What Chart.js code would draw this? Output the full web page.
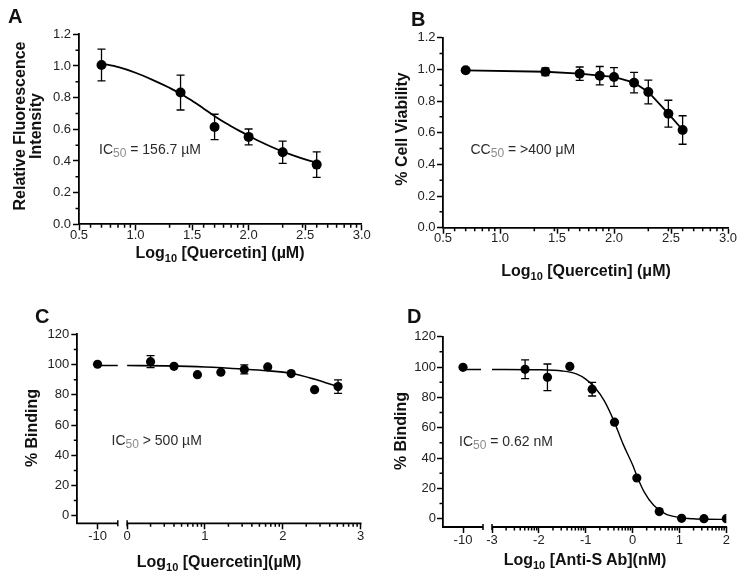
<!DOCTYPE html>
<html><head><meta charset="utf-8">
<script src="https://cdn.jsdelivr.net/npm/chart.js@4.4.0/dist/chart.umd.min.js"></script>
<style>
html,body{margin:0;padding:0;background:#fff;}
#wrap{position:relative;width:744px;height:578px;overflow:hidden;font-family:"Liberation Sans",Arial,sans-serif;background:#fff;}
canvas{position:absolute;left:0;top:0;}
.t{position:absolute;white-space:nowrap;line-height:1;color:#111;}
.letter{font-weight:bold;font-size:20px;}
.ax{font-weight:bold;font-size:16px;}
.ax sub{font-size:11px;vertical-align:baseline;position:relative;top:4px;}
.ann{font-size:14px;color:#2a2a2a;}
.ann sub{font-size:12px;color:#8c8c8c;vertical-align:baseline;position:relative;top:3px;}
.c{transform:translate(-50%,-50%);}
.r{transform:translate(-50%,-50%) rotate(-90deg);}
</style>
</head><body>
<div id="wrap">
<canvas id="cA" width="744" height="578"></canvas>
<canvas id="cB" width="744" height="578"></canvas>
<canvas id="cC" width="744" height="578"></canvas>
<canvas id="cD" width="744" height="578"></canvas>

<div class="t letter" style="left:8px;top:6px">A</div>
<div class="t letter" style="left:411px;top:9px">B</div>
<div class="t letter" style="left:35px;top:306px">C</div>
<div class="t letter" style="left:407px;top:306px">D</div>

<div class="t ax c" style="left:220px;top:253px">Log<sub>10</sub> [Quercetin] (µM)</div>
<div class="t ax c" style="left:586px;top:271px">Log<sub>10</sub> [Quercetin] (μM)</div>
<div class="t ax c" style="left:219px;top:562px">Log<sub>10</sub> [Quercetin](µM)</div>
<div class="t ax c" style="left:585px;top:560px">Log<sub>10</sub> [Anti-S Ab](nM)</div>

<div class="t ax r" style="left:20px;top:126px">Relative Fluorescence</div>
<div class="t ax r" style="left:36px;top:126px">Intensity</div>
<div class="t ax r" style="left:402px;top:129px">% Cell Viability</div>
<div class="t ax r" style="left:32px;top:428px">% Binding</div>
<div class="t ax r" style="left:401px;top:431px">% Binding</div>

<div class="t ann" style="left:99px;top:141.5px">IC<sub>50</sub> = 156.7 µM</div>
<div class="t ann" style="left:470.5px;top:142px">CC<sub>50</sub> = &gt;400 μM</div>
<div class="t ann" style="left:111.5px;top:433px">IC<sub>50</sub> &gt; 500 µM</div>
<div class="t ann" style="left:459px;top:434px">IC<sub>50</sub> = 0.62 nM</div>
</div>

<script>
// ---------------- DATA ----------------
// Panel A
const xA = [0.699, 1.398, 1.699, 2.000, 2.301, 2.602];
const yA = [1.006, 0.832, 0.615, 0.552, 0.455, 0.377];
const errA = [0.10, 0.11, 0.08, 0.05, 0.07, 0.08];
const fitXA = [0.699, 0.85, 1.0, 1.15, 1.3, 1.4, 1.5, 1.6, 1.7, 1.8, 1.9, 2.0, 2.1, 2.2, 2.3, 2.4, 2.5, 2.602];
const fitYA = [1.015, 0.992, 0.957, 0.912, 0.862, 0.825, 0.78, 0.732, 0.683, 0.638, 0.598, 0.56, 0.523, 0.49, 0.46, 0.434, 0.41, 0.389];
const xTicksA = [0.5, 1.0, 1.5, 2.0, 2.5, 3.0];
const yTicksA = [0.0, 0.2, 0.4, 0.6, 0.8, 1.0, 1.2];

// Panel B
const xB = [0.699, 1.398, 1.699, 1.875, 2.000, 2.176, 2.301, 2.477, 2.602];
const yB = [0.994, 0.985, 0.973, 0.960, 0.952, 0.916, 0.857, 0.720, 0.617];
const errB = [0, 0.025, 0.042, 0.058, 0.059, 0.065, 0.075, 0.085, 0.090];
const xTicksB = [0.5, 1.0, 1.5, 2.0, 2.5, 3.0];
const yTicksB = [0.0, 0.2, 0.4, 0.6, 0.8, 1.0, 1.2];

// Panel C
const xC = [-10, 0.301, 0.602, 0.903, 1.204, 1.505, 1.806, 2.107, 2.408, 2.709];
const yC = [100.2, 101.9, 98.8, 93.3, 94.9, 96.8, 98.4, 94.0, 83.4, 85.4];
const errC = [0, 4, 0, 0, 0, 3, 0, 0, 0, 4.5];
const fitXCleft = [-10, -8];
const fitYCleft = [99.4, 99.4];
const fitXC = [0, 0.5, 1.0, 1.5, 1.8, 2.1, 2.4, 2.55, 2.709];
const fitYC = [99.4, 99.1, 98.4, 97.0, 95.9, 94.2, 90.4, 88.0, 85.4];
const xTicksC = [-10, 0, 1, 2, 3];
const yTicksC = [0, 20, 40, 60, 80, 100, 120];

// Panel D
const xD = [-10, -2.294, -1.817, -1.340, -0.863, -0.386, 0.091, 0.569, 1.046, 1.523, 2.000];
const yD = [99.8, 98.5, 93.2, 100.4, 85.4, 63.6, 26.8, 4.7, 0.2, 0.0, 0.0];
const errD = [0, 6.2, 8.8, 0, 4.5, 0, 0, 0, 0, 0, 0];
const fitXDleft = [-10, -8.2];
const fitYDleft = [98.4, 98.4];
const fitXD = [-3, -2, -1.5, -1.2, -1.0, -0.8, -0.6, -0.4, -0.2, 0, 0.1, 0.25, 0.45, 0.7, 1.0, 1.3, 1.6, 2.0];
const fitYD = [98.4, 98.2, 97.4, 95.5, 92, 86.3, 77.5, 64.5, 49, 35.5, 27.5, 17.5, 8.8, 3.2, 0.8, -0.1, -0.4, -0.5];
const xTicksD = [-10, -3, -2, -1, 0, 1, 2];
const yTicksD = [0, 20, 40, 60, 80, 100, 120];

// ---------------- HELPERS ----------------
const FONT = "'Liberation Sans', Arial, sans-serif";
Chart.defaults.font.family = FONT;

// broken-axis mapping: real values in [lo,hi] are squeezed into a short left segment
function makeMap(brk){
  if(!brk) return v => v;
  return v => (v <= brk.hi ? brk.dispLo + (v - brk.lo) * brk.k : v);
}
function logMinors(from, to){
  const out = [];
  for(let d = Math.floor(from); d < Math.ceil(to); d++){
    for(let k = 2; k <= 9; k++){
      const v = d + Math.log10(k);
      if(v > from + 1e-6 && v < to - 1e-6) out.push(v);
    }
  }
  return out;
}
function pts(xs, ys, map){ return xs.map((x,i)=>({x: map(x), y: ys[i]})); }

function errorPlugin(xs, ys, es, map, cap, lw){
  return { id:'errbars', beforeDatasetsDraw(chart){
    const {ctx, scales:{x, y}} = chart;
    ctx.save(); ctx.strokeStyle = '#000'; ctx.lineWidth = lw; ctx.beginPath();
    xs.forEach((xv,i)=>{
      const e = es[i]; if(!e) return;
      const px = x.getPixelForValue(map(xv));
      const y1 = y.getPixelForValue(ys[i] + e), y2 = y.getPixelForValue(ys[i] - e);
      ctx.moveTo(px, y1); ctx.lineTo(px, y2);
      ctx.moveTo(px - cap, y1); ctx.lineTo(px + cap, y1);
      ctx.moveTo(px - cap, y2); ctx.lineTo(px + cap, y2);
    });
    ctx.stroke(); ctx.restore();
  }};
}
function decorPlugin(opt){
  return { id:'decor', afterDraw(chart){
    const {ctx, chartArea:ca, scales:{x, y}} = chart;
    ctx.save(); ctx.strokeStyle = '#000'; ctx.lineWidth = 1.5; ctx.beginPath();
    const yb = ca.bottom;
    opt.xMinor.forEach(v=>{ const px = x.getPixelForValue(v); ctx.moveTo(px, yb); ctx.lineTo(px, yb + 3.5); });
    opt.yMinor.forEach(v=>{ const py = y.getPixelForValue(v); ctx.moveTo(ca.left, py); ctx.lineTo(ca.left - 3.5, py); });
    ctx.stroke();
    if(opt.brk){
      const b = opt.brk, m = opt.map;
      const a1 = x.getPixelForValue(m(b.lo)), a2 = x.getPixelForValue(m(b.hi));
      const r1 = x.getPixelForValue(b.rightStart);
      ctx.lineWidth = 1.8; ctx.beginPath();
      ctx.moveTo(a1 - 1, yb); ctx.lineTo(a2, yb);
      ctx.moveTo(r1, yb); ctx.lineTo(ca.right + 0.8, yb);
      ctx.stroke();
      ctx.lineWidth = 1.5; ctx.beginPath();
      ctx.moveTo(a2, yb - 3); ctx.lineTo(a2, yb + 3);
      ctx.moveTo(r1, yb - 3); ctx.lineTo(r1, yb + 3);
      ctx.stroke();
    }
    ctx.restore();
  }};
}

function makeChart(id, o){
  const map = makeMap(o.brk);
  const datasets = [{
    data: pts(o.xs, o.ys, map), showLine: !!o.connect, borderColor:'#000', borderWidth: o.lineW,
    pointRadius: o.r, pointBackgroundColor:'#000', pointBorderWidth:0, tension:0
  }];
  o.fits.forEach(f => datasets.push({
    data: pts(f[0], f[1], map), showLine:true, borderColor:'#000', borderWidth:o.lineW,
    pointRadius:0, cubicInterpolationMode:'monotone'
  }));
  const tickFont = {family: FONT, size: 13};
  new Chart(document.getElementById(id), {
    type:'scatter',
    data:{datasets},
    options:{
      responsive:false, animation:false, events:[],
      layout:{padding:o.pad},
      plugins:{legend:{display:false}, tooltip:{enabled:false}},
      scales:{
        x:{ type:'linear', min:o.xmin, max:o.xmax,
            afterBuildTicks: s => { s.ticks = o.xTicks.map(v=>({value: map(v)})); },
            afterFit: s => { s.height = 40; },
            ticks:{ color:'#222', font:tickFont, padding:o.xPad, maxRotation:0, autoSkip:false,
                    callback:(v,i)=> o.xFmt(o.xTicks[i]) },
            grid:{ drawOnChartArea:false, tickLength:6, tickWidth:1.5, tickColor:'#000' },
            border:{ display: !o.brk, color:'#000', width:1.8 } },
        y:{ type:'linear', min:o.ymin, max:o.ymax,
            afterBuildTicks: s => { s.ticks = o.yTicks.map(v=>({value:v})); },
            afterFit: s => { s.width = 40; },
            ticks:{ color:'#222', font:tickFont, padding:o.yPad, autoSkip:false,
                    callback:(v,i)=> o.yFmt(o.yTicks[i]) },
            grid:{ drawOnChartArea:false, tickLength:6, tickWidth:1.5, tickColor:'#000' },
            border:{ color:'#000', width:1.8 } }
      }
    },
    plugins:[ errorPlugin(o.xs, o.ys, o.es, map, o.cap, 1.3),
              decorPlugin({xMinor:o.xMinor, yMinor:o.yMinor, brk:o.brk, map}) ]
  });
}

const f1 = v => v.toFixed(1), f0 = v => String(v);
const minorsAB = logMinors(0.5, 3.0);
const yMinorAB = [0.1, 0.3, 0.5, 0.7, 0.9, 1.1];
const yMinorCD = [10, 30, 50, 70, 90, 110];

makeChart('cA', { xs:xA, ys:yA, es:errA, fits:[[fitXA, fitYA]], lineW:1.8, r:5, cap:4,
  xmin:0.5, xmax:3.0, ymin:0, ymax:1.2, xTicks:xTicksA, yTicks:yTicksA, xFmt:f1, yFmt:f1,
  xMinor:minorsAB, yMinor:yMinorAB, xPad:-3, yPad:2,
  pad:{left:39, top:34.3, right:382.3, bottom:313.7} });

makeChart('cB', { xs:xB, ys:yB, es:errB, fits:[], connect:true, lineW:1.8, r:5, cap:4,
  xmin:0.5, xmax:3.0, ymin:0, ymax:1.2, xTicks:xTicksB, yTicks:yTicksB, xFmt:f1, yFmt:f1,
  xMinor:minorsAB, yMinor:yMinorAB, xPad:-3, yPad:1.5,
  pad:{left:403, top:37.7, right:16, bottom:310.3} });

const brkC = {lo:-12, hi:-8, dispLo:-0.64, k:0.13, rightStart:0};
makeChart('cC', { xs:xC, ys:yC, es:errC, fits:[[fitXCleft, fitYCleft],[fitXC, fitYC]], lineW:1.6, r:4.6, cap:4,
  xmin:-0.64, xmax:3.0, ymin:-5, ymax:120, xTicks:xTicksC, yTicks:yTicksC, xFmt:f0, yFmt:f0,
  xMinor:logMinors(0, 3), yMinor:yMinorCD, xPad:-1, yPad:2, brk:brkC,
  pad:{left:37.3, top:334.3, right:383.3, bottom:14.7} });

const brkD = {lo:-12, hi:-8, dispLo:-4.046, k:0.2135, rightStart:-3};
makeChart('cD', { xs:xD, ys:yD, es:errD, fits:[[fitXDleft, fitYDleft],[fitXD, fitYD]], lineW:1.4, r:4.6, cap:4,
  xmin:-4.046, xmax:2.0, ymin:-5.5, ymax:120, xTicks:xTicksD, yTicks:yTicksD, xFmt:f0, yFmt:f0,
  xMinor:logMinors(-3, 2), yMinor:yMinorCD, xPad:0, yPad:1, brk:brkD,
  pad:{left:403, top:336.7, right:17.7, bottom:11} });
</script>
</body></html>
